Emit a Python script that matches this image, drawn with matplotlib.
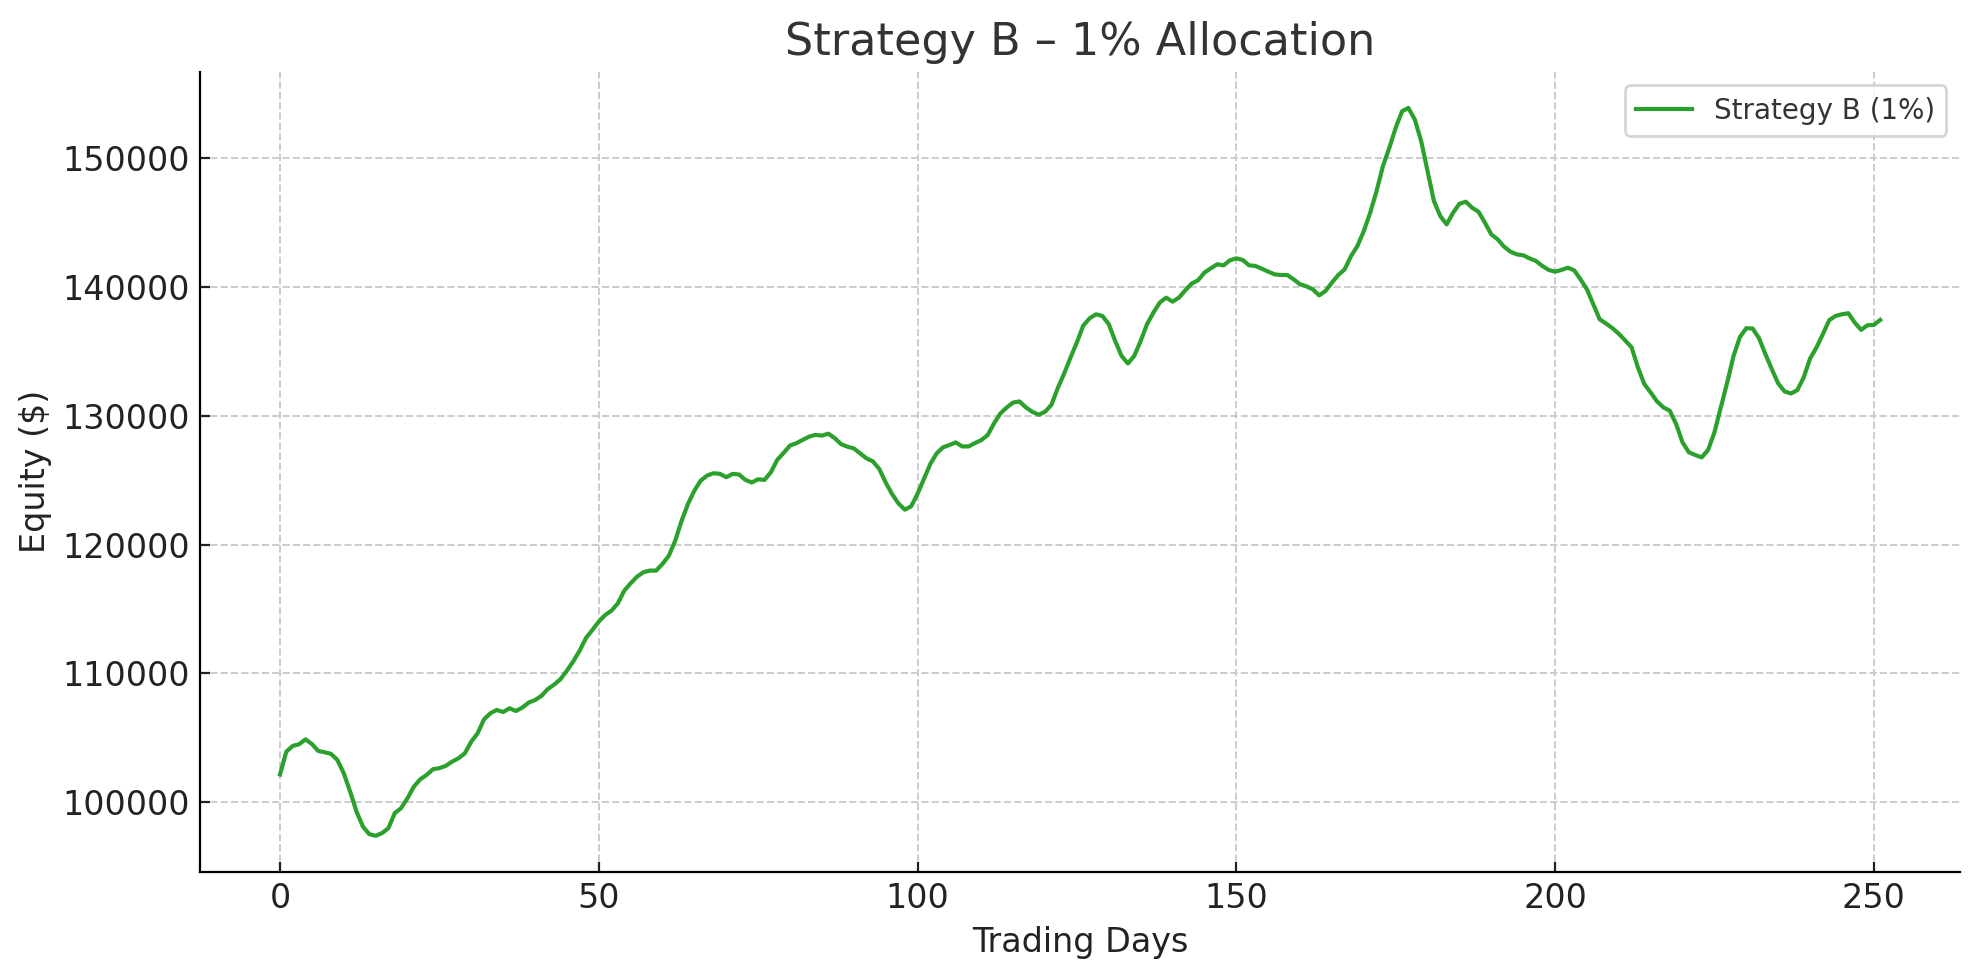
import matplotlib
matplotlib.use('Agg')
import matplotlib.pyplot as plt

# equity curve, one value per trading day (0..251)
equity = [
    102150, 103930, 104370, 104500, 104880, 104520, 103980, 103880, 103750, 103280,
    102250, 100830, 99280, 98110, 97520, 97390, 97600, 97980, 99150, 99540,
    100310, 101210, 101780, 102120, 102560, 102640, 102820, 103150, 103410, 103800,
    104700, 105350, 106430, 106900, 107160, 107000, 107290, 107080, 107340, 107730,
    107930, 108250, 108780, 109130, 109550, 110210, 110930, 111760, 112750, 113370,
    114020, 114530, 114870, 115440, 116420, 116990, 117510, 117850, 117980, 117980,
    118500, 119140, 120310, 121860, 123160, 124190, 124970, 125360, 125540, 125490,
    125230, 125490, 125440, 125020, 124820, 125070, 125020, 125620, 126580, 127120,
    127690, 127870, 128130, 128380, 128520, 128460, 128610, 128270, 127800, 127600,
    127470, 127080, 126690, 126460, 125870, 124830, 123930, 123200, 122710, 122970,
    123930, 125090, 126250, 127080, 127550, 127730, 127930, 127620, 127620, 127880,
    128110, 128500, 129410, 130180, 130650, 131030, 131110, 130650, 130310, 130080,
    130310, 130850, 132150, 133280, 134520, 135700, 137000, 137570, 137880, 137750,
    137110, 135810, 134650, 134060, 134650, 135810, 137110, 138010, 138790, 139170,
    138860, 139170, 139740, 140260, 140520, 141110, 141450, 141760, 141680, 142070,
    142220, 142100, 141680, 141630, 141420, 141190, 140980, 140930, 140930, 140590,
    140210, 140050, 139820, 139350, 139690, 140340, 140930, 141370, 142400, 143180,
    144340, 145760, 147440, 149380, 150800, 152350, 153640, 153900, 153000, 151320,
    148990, 146670, 145500, 144860, 145760, 146460, 146620, 146150, 145840, 144990,
    144080, 143700, 143130, 142740, 142530, 142460, 142220, 142020, 141630, 141320,
    141190, 141320, 141500, 141290, 140590, 139820, 138660, 137490, 137160, 136800,
    136370, 135850, 135320, 133750, 132460, 131810, 131110, 130650, 130390, 129350,
    127930, 127160, 126950, 126770, 127340, 128710, 130650, 132580, 134650, 136120,
    136800, 136770, 136020, 134780, 133620, 132510, 131890, 131730, 131990, 132970,
    134440, 135300, 136330, 137420, 137750, 137880, 137960, 137240, 136670, 137030,
    137050, 137440,
]
days = list(range(len(equity)))

fig, ax = plt.subplots(figsize=(9.9, 4.9), dpi=200)
ax.plot(days, equity, color='#2ca02c', lw=1.5, label='Strategy B (1%)')

ax.set_title('Strategy B \u2013 1% Allocation', fontsize=16, color='#333333')
ax.set_xlabel('Trading Days', fontsize=12, color='#222222')
ax.set_ylabel('Equity ($)', fontsize=12, color='#222222')
ax.tick_params(labelsize=12, colors='#222222', direction='in')
ax.spines['top'].set_visible(False)
ax.spines['right'].set_visible(False)
ax.grid(True, linestyle='--', color='#cccccc', linewidth=0.7)
ax.legend(loc='upper right', fontsize=10, labelcolor='#333333')

fig.subplots_adjust(left=0.101, right=0.99, top=0.927, bottom=0.11)
plt.savefig('out.png')
